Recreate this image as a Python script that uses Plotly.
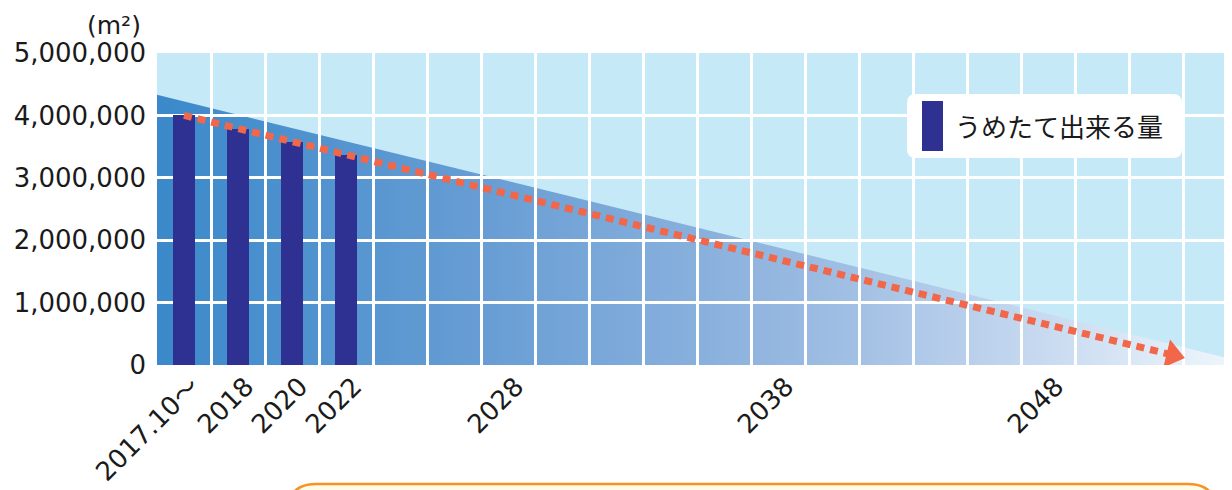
import plotly.graph_objects as go

# ---- data ----
tick_positions = [0, 1, 2, 3, 6, 11, 16]
tick_labels = ["2017.10〜", "2018", "2020", "2022", "2028", "2038", "2048"]

bar_x = [0, 1, 2, 3]
bar_values = [4000000, 3780000, 3570000, 3370000]
bar_name = "うめたて出来る量"

# background wedge (remaining capacity trend)
wedge_x = [-0.5, 19.85, -0.5]
wedge_y = [4330000, 0, 0]

# forecast arrow
arrow_x = [0, 18.31]
arrow_y = [4000000, 160000]

y_ticks = [0, 1000000, 2000000, 3000000, 4000000, 5000000]
minor_grid = [i + 0.5 for i in range(21)]

# ---- layout helpers ----
# page is rendered with the browser's default 8px body margin, so
# screen position = page position + 8
OFF = 8
W, H = 1232, 490
SCR_L, SCR_T, SCR_B = 157, 53, 365          # plot edges on screen
L, T = SCR_L - OFF, SCR_T - OFF
B = H - (SCR_B - OFF)
R = 0
PW, PH = W - L - R, H - T - B
CELL = 54                                   # px per category step


def px(x):
    return (x - SCR_L) / PW


def py(y):
    return (SCR_B - y) / PH


def rrect(x0, y0, x1, y1, r):
    pts = [
        ("M", [(x0 + r, y0)]),
        ("L", [(x1 - r, y0)]),
        ("Q", [(x1, y0), (x1, y0 + r)]),
        ("L", [(x1, y1 - r)]),
        ("Q", [(x1, y1), (x1 - r, y1)]),
        ("L", [(x0 + r, y1)]),
        ("Q", [(x0, y1), (x0, y1 - r)]),
        ("L", [(x0, y0 + r)]),
        ("Q", [(x0, y0), (x0 + r, y0)]),
    ]
    s = ""
    for cmd, ps in pts:
        s += cmd + " " + " ".join(f"{px(a):.5f},{py(b):.5f}" for a, b in ps) + " "
    return s + "Z"


XR = [-0.5, -0.5 + PW / CELL]
X_VISIBLE_END = -0.5 + (1232 - SCR_L) / CELL
YR = [0, 5000000]

fig = go.Figure()

fig.add_trace(go.Scatter(
    x=wedge_x, y=wedge_y, xaxis="x", yaxis="y",
    mode="lines", fill="toself", line=dict(width=0),
    fillcolor="#6a9fd4",
    fillgradient=dict(
        type="horizontal", start=-0.5, stop=X_VISIBLE_END,
        colorscale=[[0, "#3b89ca"], [0.3, "#679dd4"], [0.6, "#98b9e1"],
                    [0.8, "#c2d6ee"], [1, "#eef6fc"]],
    ),
    hoverinfo="skip", showlegend=False,
))

fig.add_trace(go.Bar(
    x=bar_x, y=bar_values, xaxis="x2", yaxis="y2",
    width=0.39, marker=dict(color="#2e3192", line=dict(width=0)),
    name=bar_name, showlegend=False,
))

fig.add_trace(go.Scatter(
    x=arrow_x, y=arrow_y, xaxis="x2", yaxis="y2",
    mode="lines+markers",
    line=dict(color="#f26649", width=7, dash="8px,6px"),
    marker=dict(symbol="triangle-up", size=[0, 25], angleref="previous",
                color="#f26649", opacity=1, line=dict(width=0)),
    hoverinfo="skip", showlegend=False,
))

font_main = "DejaVu Sans, Noto Sans CJK JP, sans-serif"

shapes = [
    # plot background (below all subplots)
    dict(type="rect", xref="paper", yref="paper", layer="below",
         x0=0, x1=1, y0=0, y1=1, fillcolor="#c6e9f8", line=dict(width=0)),
    # legend box
    dict(type="path", xref="paper", yref="paper", layer="above",
         path=rrect(907, 94, 1182, 158, 9),
         fillcolor="white", line=dict(width=0)),
    dict(type="rect", xref="paper", yref="paper", layer="above",
         x0=px(922), x1=px(943), y0=py(151), y1=py(101),
         fillcolor="#2e3192", line=dict(width=0)),
    # bottom note box (cut off)
    dict(type="path", xref="paper", yref="paper", layer="above",
         path=rrect(288, 484, 1216, 540, 28),
         fillcolor="#fffbe8", line=dict(color="#f7931e", width=2.5)),
]

annotations = [
    dict(xref="paper", yref="paper", x=px(953), y=py(126),
         text=bar_name, showarrow=False, xanchor="left", yanchor="middle",
         font=dict(family="Noto Sans CJK JP", size=26, color="#1a1a1a")),
    dict(xref="paper", yref="paper", x=px(143), y=py(25),
         text="(m²)", showarrow=False, xanchor="right", yanchor="middle",
         font=dict(family=font_main, size=25, color="#1a1a1a")),
]

fig.update_layout(
    width=W, height=H,
    margin=dict(l=L, r=R, t=T, b=B, autoexpand=False),
    paper_bgcolor="white", plot_bgcolor="rgba(0,0,0,0)",
    showlegend=False,
    shapes=shapes, annotations=annotations,
    font=dict(family=font_main, size=26, color="#1a1a1a"),
    xaxis=dict(range=XR, visible=False, showgrid=False, zeroline=False,
               domain=[0, 1], anchor="y"),
    yaxis=dict(range=YR, visible=False, showgrid=False, zeroline=False,
               domain=[0, 1], anchor="x"),
    xaxis2=dict(range=XR, domain=[0, 1], anchor="y2", automargin=False,
                tickmode="array", tickvals=tick_positions, ticktext=tick_labels,
                tickangle=-45, showgrid=False, zeroline=False, ticks="",
                showline=False, ticklabelshift=8,
                tickfont=dict(family=font_main, size=26, color="#1a1a1a"),
                minor=dict(tickmode="array", tickvals=minor_grid, showgrid=True,
                           gridcolor="white", gridwidth=3, ticks="")),
    yaxis2=dict(range=YR, domain=[0, 1], anchor="x2", automargin=False,
                tickmode="array", tickvals=y_ticks, tickformat=",",
                showgrid=True, gridcolor="white", gridwidth=3,
                zeroline=False, ticks="", showline=False,
                ticklabelstandoff=10,
                tickfont=dict(family=font_main, size=26, color="#1a1a1a")),
    bargap=0,
)

fig.write_html("out.html")
